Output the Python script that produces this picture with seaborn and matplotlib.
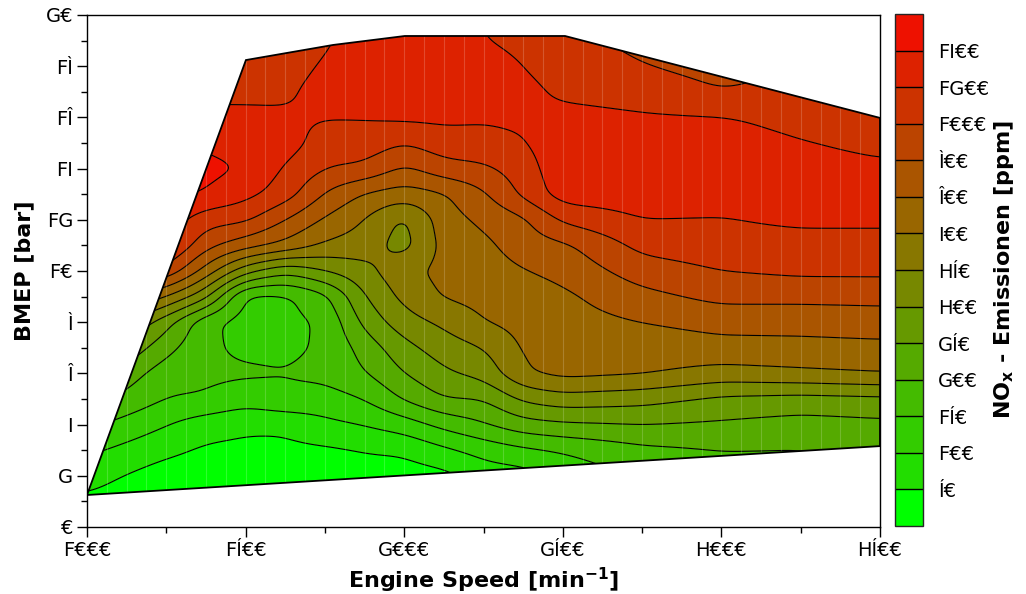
import numpy as np
import matplotlib
matplotlib.use("Agg")
import matplotlib.pyplot as plt
import seaborn as sns
from matplotlib.patches import Polygon

# ---------------- data ----------------
speed = [1000, 1250, 1375, 1500, 1625, 1750, 1875, 2000, 2125, 2250, 2375, 2500, 2750, 3000, 3250, 3500]
bmep = list(range(0, 21))

# NOx [ppm] per engine-speed column, BMEP 0..20 bar
nox_1000 = [18, 40, 70, 110, 160, 220, 280, 360, 520, 900, 1200, 1300, 1340, 1440, 1520, 1400, 1300, 1240, 1200, 1160, 1120]
nox_1250 = [0, 10, 25, 62, 102, 148, 170, 215, 270, 400, 960, 1260, 1320, 1460, 1600, 1380, 1240, 1150, 1120, 1100, 1080]
nox_1375 = [0, 10, 22, 42, 72, 145, 160, 160, 162, 315, 520, 860, 1080, 1380, 1460, 1360, 1240, 1160, 1120, 1100, 1080]
nox_1500 = [0, 15, 30, 40, 58, 120, 158, 138, 130, 135, 315, 680, 1040, 1260, 1380, 1320, 1240, 1160, 1100, 1060, 1040]
nox_1625 = [0, 12, 28, 40, 58, 142, 151, 142, 138, 140, 260, 540, 800, 1100, 1180, 1300, 1240, 1150, 1100, 1060, 1040]
nox_1750 = [0, 10, 25, 42, 88, 130, 162, 155, 155, 185, 300, 390, 570, 780, 1000, 1100, 1210, 1300, 1230, 1160, 1120]
nox_1875 = [5, 18, 35, 51, 102, 150, 195, 220, 265, 300, 335, 375, 400, 580, 960, 1120, 1210, 1320, 1350, 1340, 1320]
nox_2000 = [0, 10, 28, 57, 125, 205, 250, 285, 330, 365, 385, 325, 332, 500, 760, 1000, 1240, 1320, 1340, 1320, 1300]
nox_2125 = [15, 25, 35, 90, 165, 250, 292, 325, 360, 420, 460, 480, 520, 580, 920, 1120, 1240, 1320, 1320, 1300, 1280]
nox_2250 = [25, 50, 72, 118, 195, 250, 315, 350, 400, 460, 500, 550, 640, 770, 960, 1140, 1220, 1300, 1300, 1210, 1180]
nox_2375 = [55, 70, 78, 140, 230, 310, 395, 430, 460, 490, 590, 700, 760, 1040, 1100, 1180, 1240, 1260, 1200, 1140, 1120]
nox_2500 = [75, 95, 115, 155, 242, 330, 460, 490, 520, 560, 660, 760, 1040, 1300, 1340, 1340, 1260, 1160, 1100, 1060, 1040]
nox_2750 = [135, 150, 158, 188, 250, 318, 420, 500, 600, 740, 900, 1060, 1200, 1300, 1320, 1300, 1220, 1120, 1010, 950, 920]
nox_3000 = [160, 170, 180, 200, 242, 290, 380, 540, 660, 860, 1000, 1120, 1190, 1280, 1300, 1280, 1210, 1010, 920, 860, 820]
nox_3250 = [170, 180, 188, 198, 230, 282, 390, 550, 660, 860, 1040, 1120, 1240, 1270, 1260, 1210, 1140, 1060, 1020, 1000, 980]
nox_3500 = [195, 200, 208, 215, 238, 288, 400, 560, 680, 870, 1040, 1120, 1240, 1260, 1230, 1160, 1100, 1060, 1040, 1020, 1000]

# measured operating envelope (engine speed, BMEP)
envelope_speed = [1000, 1501, 1776, 2002, 2507, 3500, 3500, 1000]
envelope_bmep = [1.25, 18.24, 18.83, 19.18, 19.18, 15.98, 3.16, 1.25]

levels_ppm = [50, 100, 150, 200, 250, 300, 350, 400, 600, 800, 1000, 1200, 1400]
level_labels = ["Í€", "F€€", "FÍ€", "G€€", "GÍ€", "H€€", "HÍ€", "I€€", "Î€€", "Ì€€", "F€€€", "FG€€", "FI€€"]
band_colors = ["#00FF00", "#22DD00", "#33CC00", "#44BB00", "#55AA00", "#669900", "#778800",
               "#887700", "#996600", "#AA5500", "#BB4400", "#CC3300", "#DD2200", "#EE1100"]

speed_ticks = [1000, 1500, 2000, 2500, 3000, 3500]
speed_labels = ["F€€€", "FÍ€€", "G€€€", "GÍ€€", "H€€€", "HÍ€€"]
bmep_ticks = [0, 2, 4, 6, 8, 10, 12, 14, 16, 18, 20]
bmep_labels = ["€", "G", "I", "Î", "Ì", "F€", "FG", "FI", "FÎ", "FÌ", "G€"]

# ---------------- style ----------------
sns.set_style("ticks")
plt.rcParams['font.family'] = ['DejaVu Sans']
plt.rcParams.update({'text.color': 'black', 'axes.labelcolor': 'black',
                     'xtick.color': 'black', 'ytick.color': 'black'})

# ---------------- field ----------------
Z = np.array([nox_1000, nox_1250, nox_1375, nox_1500, nox_1625, nox_1750, nox_1875, nox_2000,
              nox_2125, nox_2250, nox_2375, nox_2500, nox_2750, nox_3000, nox_3250, nox_3500], float).T
knots_ppm = [0] + levels_ppm + [1600]
knots_idx = np.arange(len(knots_ppm))
Zi = np.interp(Z, knots_ppm, knots_idx)   # band-index space (contour levels evenly spaced)

xf = np.linspace(1000, 3500, 501)
yf = np.linspace(0, 20, 401)
tmp = np.array([np.interp(xf, speed, row) for row in Zi])
fine = np.array([np.interp(yf, bmep, tmp[:, j]) for j in range(len(xf))]).T


def gauss(n, s):
    k = np.exp(-0.5 * (np.arange(-n, n + 1) / s) ** 2)
    return k / k.sum()


def smooth(a, sx, sy):
    nx, ny = int(3 * sx), int(3 * sy)
    kx, ky = gauss(nx, sx), gauss(ny, sy)
    p = np.pad(a, ((0, 0), (nx, nx)), mode='edge')
    a = np.array([np.convolve(r, kx, mode='valid') for r in p])
    p = np.pad(a, ((ny, ny), (0, 0)), mode='edge')
    a = np.array([np.convolve(c, ky, mode='valid') for c in p.T]).T
    return a


fine = smooth(fine, 7, 4)

# ---------------- figure ----------------
fig = plt.figure(figsize=(10.26, 5.94), dpi=100)
ax = fig.add_axes([87 / 1026, 1 - 527 / 594, (880 - 87) / 1026, (527 - 15) / 594])

bounds = [-10] + list(range(1, len(levels_ppm) + 1)) + [100]
cs = ax.contourf(xf, yf, fine, levels=bounds, colors=band_colors, antialiased=True)
cl = ax.contour(xf, yf, fine, levels=list(range(1, len(levels_ppm) + 1)), colors='black', linewidths=0.8)

env = Polygon(np.column_stack([envelope_speed, envelope_bmep]), closed=True, facecolor='none',
              edgecolor='black', linewidth=1.3, zorder=4)
ax.add_patch(env)
cs.set_clip_path(env)
cl.set_clip_path(env)

# faint mesh lines of the measurement grid
mesh = ax.vlines(np.arange(1062.5, 3500, 62.5), 0, 20, colors='white', alpha=0.18, linewidth=0.8, zorder=2)
mesh.set_clip_path(env)

ax.set_xlim(1000, 3500)
ax.set_ylim(0, 20)
ax.set_xticks(speed_ticks, speed_labels)
ax.set_xticks([1250, 1750, 2250, 2750, 3250], minor=True)
ax.set_yticks(bmep_ticks, bmep_labels)
ax.set_yticks([1, 3, 5, 7, 9, 11, 13, 15, 17, 19], minor=True)
ax.tick_params(which='major', direction='out', length=7, width=1, labelsize=14, pad=3)
ax.tick_params(which='minor', direction='out', length=4, width=1)
for s in ax.spines.values():
    s.set_linewidth(1.0)
    s.set_color('black')

ax.set_xlabel("Engine Speed [min$^{\\mathbf{-1}}$]", fontsize=16, fontweight='bold', labelpad=4)
ax.set_ylabel("BMEP [bar]", fontsize=16, fontweight='bold', labelpad=8)

cax = fig.add_axes([895 / 1026, 1 - 526 / 594, 28 / 1026, 512 / 594])
cb = fig.colorbar(cs, cax=cax, spacing='uniform', ticks=list(range(1, len(levels_ppm) + 1)), drawedges=True)
cb.set_ticklabels(level_labels)
cb.ax.tick_params(length=0, labelsize=14, pad=11)
cb.outline.set_linewidth(1.0)
cb.dividers.set_color('black')
cb.dividers.set_linewidth(1.0)
cb.set_label("NO$_\\mathbf{x}$ - Emissionen [ppm]", fontsize=16, fontweight='bold', labelpad=2)

fig.savefig("out.png", dpi=100)
